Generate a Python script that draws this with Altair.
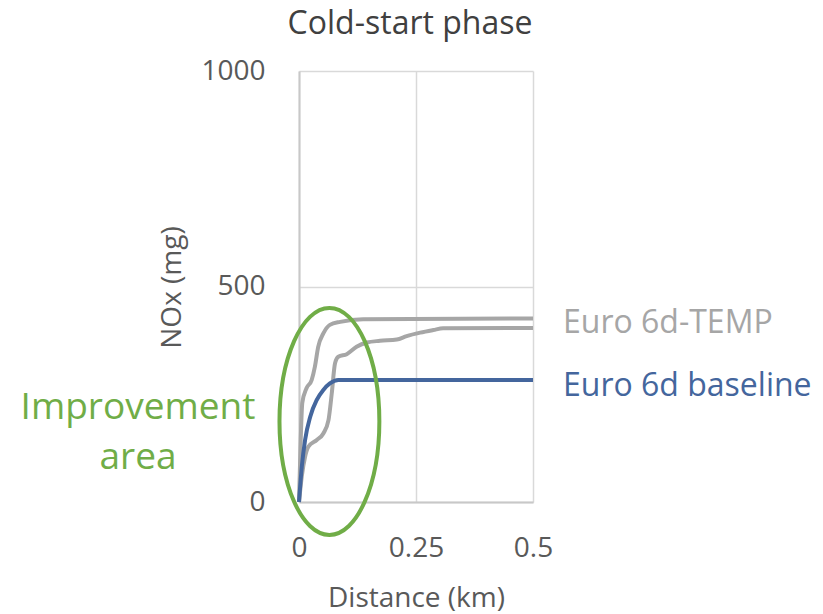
import altair as alt
import pandas as pd

# ---- data ----
temp_hi_km = [0, 0.003, 0.007, 0.016, 0.027, 0.034, 0.041, 0.052, 0.066, 0.088, 0.137, 0.5]
temp_hi_mg = [0, 120, 230, 264, 283, 314, 360, 391, 411, 418, 424, 426]

temp_lo_km = [0, 0.006, 0.013, 0.020, 0.038, 0.052, 0.063, 0.070, 0.077, 0.084, 0.102,
              0.123, 0.145, 0.173, 0.209, 0.230, 0.259, 0.287, 0.308, 0.5]
temp_lo_mg = [0, 60, 105, 128, 144, 159, 190, 252, 322, 337, 343,
              360, 370, 374, 377, 385, 393, 399, 403, 404]

base_km = [0, 0.006, 0.013, 0.024, 0.038, 0.052, 0.066, 0.084, 0.102, 0.5]
base_mg = [0, 82, 144, 198, 237, 260, 275, 283, 283, 283]

series_names = ["Euro 6d-TEMP (a)", "Euro 6d-TEMP (b)", "Euro 6d baseline"]
series_colors = ["#a6a6a6", "#a6a6a6", "#44669d"]

label_texts = ["Euro 6d-TEMP", "Euro 6d baseline"]
label_colors = ["#a6a6a6", "#44669d"]
label_km = [0.5, 0.5]
label_mg = [416, 269]

ellipse_km = [0.065]
ellipse_mg = [187]

x_ticks = [0, 0.25, 0.5]
y_ticks = [0, 500, 1000]

chart_title = "Cold-start phase"

FONT = "Open Sans"
W, H = 234, 431
LEFT, TOP = 299, 71

rows = []
for name, xs, ys in [(series_names[0], temp_hi_km, temp_hi_mg),
                     (series_names[1], temp_lo_km, temp_lo_mg),
                     (series_names[2], base_km, base_mg)]:
    for i, (a, b) in enumerate(zip(xs, ys)):
        rows.append({"series": name, "km": a, "mg": b, "order": i})
df = pd.DataFrame(rows)
df_gray = df[df.series != series_names[2]]
df_blue = df[df.series == series_names[2]]

xscale = alt.Scale(domain=[0, 0.5], nice=False, zero=False)
yscale = alt.Scale(domain=[0, 1000], nice=False)
cscale = alt.Scale(domain=series_names, range=series_colors)

xaxis = alt.Axis(values=x_ticks, format=".2~f", title="Distance (km)", ticks=False,
                 labelPadding=46, labelBaseline="middle", labelFontSize=28,
                 labelFont=FONT, labelColor="#595959", titleFont=FONT,
                 titleFontSize=28, titleColor="#595959", titleFontWeight="normal",
                 titleX=W / 2, titleY=96, titleBaseline="middle", titleAlign="center",
                 grid=True, gridColor="#d9d9d9", gridWidth=1.5,
                 domainColor="#c8c8c8", domainWidth=2, labelFlush=False)
yaxis = alt.Axis(values=y_ticks, format="d", title="NOx (mg)", ticks=False,
                 labelPadding=34, labelFontSize=28, labelFont=FONT,
                 labelColor="#595959", titleFont=FONT, titleFontSize=28,
                 titleColor="#595959", titleFontWeight="normal",
                 titleX=172 - LEFT, titleY=287 - TOP, titleBaseline="middle",
                 titleAlign="center", titleAngle=270,
                 grid=True, gridColor="#d9d9d9", gridWidth=1.5,
                 domainColor="#c8c8c8", domainWidth=2, labelFlush=False)

gray = alt.Chart(df_gray).mark_line(strokeWidth=4, interpolate="monotone").encode(
    x=alt.X("km:Q", scale=xscale, axis=xaxis),
    y=alt.Y("mg:Q", scale=yscale, axis=yaxis),
    color=alt.Color("series:N", scale=cscale, legend=None),
    order="order:Q",
)
blue = alt.Chart(df_blue).mark_line(strokeWidth=4, interpolate="monotone").encode(
    x=alt.X("km:Q", scale=xscale),
    y=alt.Y("mg:Q", scale=yscale),
    color=alt.Color("series:N", scale=cscale, legend=None),
    order="order:Q",
)

labels_df = pd.DataFrame({"text": label_texts, "color": label_colors,
                          "km": label_km, "mg": label_mg})
labels = alt.Chart(labels_df).mark_text(align="left", baseline="middle", dx=30,
                                        fontSize=32, font=FONT).encode(
    x=alt.X("km:Q", scale=xscale),
    y=alt.Y("mg:Q", scale=yscale),
    text="text:N",
    color=alt.Color("color:N", scale=None),
)

ell_df = pd.DataFrame({"km": ellipse_km, "mg": ellipse_mg})
ellipse = alt.Chart(ell_df).mark_point(
    shape="M -0.44 0 A 0.44 1 0 1 1 0.44 0 A 0.44 1 0 1 1 -0.44 0 Z",
    size=227 * 227, filled=False, stroke="#70ad47", strokeWidth=4, opacity=1,
).encode(
    x=alt.X("km:Q", scale=xscale),
    y=alt.Y("mg:Q", scale=yscale),
)

ann1 = alt.Chart(ell_df).mark_text(fontSize=37, font=FONT, color="#70ad47",
                                   align="center", baseline="middle").encode(
    x=alt.value(138 - LEFT), y=alt.value(408 - TOP), text=alt.value("Improvement"))
ann2 = alt.Chart(ell_df).mark_text(fontSize=37, font=FONT, color="#70ad47",
                                   align="center", baseline="middle").encode(
    x=alt.value(138 - LEFT), y=alt.value(458 - TOP), text=alt.value("area"))

title_mark = alt.Chart(ell_df).mark_text(fontSize=32, font=FONT, color="#404040",
                                         align="center", baseline="alphabetic").encode(
    x=alt.value(410 - LEFT), y=alt.value(34 - TOP), text=alt.value(chart_title))

chart = alt.layer(gray, blue, labels, ellipse, ann1, ann2, title_mark).properties(
    width=W, height=H,
    autosize=alt.AutoSizeParams(type="none"),
    padding={"left": LEFT, "top": TOP, "right": 823 - LEFT - W, "bottom": 614 - TOP - H},
    background="white",
).configure_view(stroke=None)

chart.save("out.html", embed_options={"renderer": "svg", "actions": False})
